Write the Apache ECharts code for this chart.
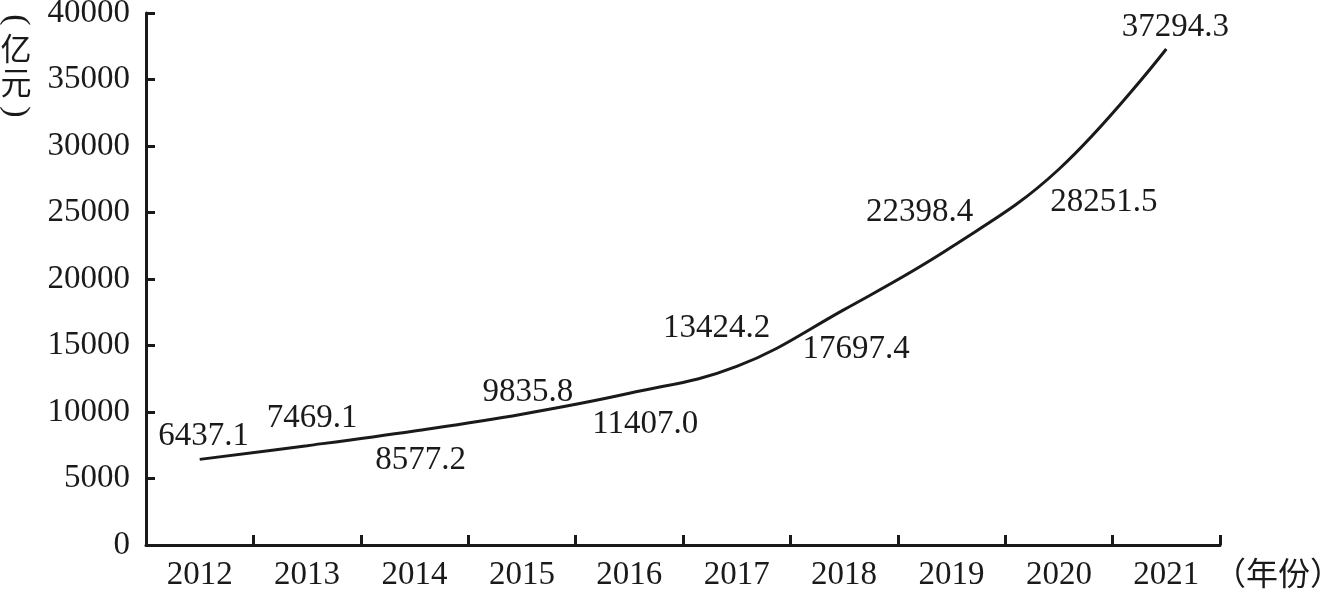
<!DOCTYPE html>
<html>
<head>
<meta charset="utf-8">
<script src="https://cdn.jsdelivr.net/npm/echarts@6/dist/echarts.min.js"></script>
<style>
html,body{margin:0;padding:0;background:#fff;}
#chart{width:1339px;height:590px;}
</style>
</head>
<body>
<div id="chart"></div>
<script>
const years = ['2012','2013','2014','2015','2016','2017','2018','2019','2020','2021'];
const values = [6437.1, 7469.1, 8577.2, 9835.8, 11407.0, 13424.2, 17697.4, 22398.4, 28251.5, 37294.3];
const valueLabels = ['6437.1','7469.1','8577.2','9835.8','11407.0','13424.2','17697.4','22398.4','28251.5','37294.3'];
const yTicks = [0, 5000, 10000, 15000, 20000, 25000, 30000, 35000, 40000];
const yNameChars = ['(', '亿', '元', ')'];
const xName = '（年份）';
// label placement offsets (layout only)
const labelOffsets = [[4,-23],[5,-27],[6,29],[6,-22],[16,31],[-20,-38],[12,40],[-32,-35],[45,33],[9,-22]];
// y-name glyph placement (layout only): [centerY, rotation]
const yNameLayout = [[20,-Math.PI/2],[48,0],[82,0],[112,-Math.PI/2]];

const ink = '#1a1a1a';
const serif = '"Liberation Serif","Times New Roman",serif';
const cjk = '"Noto Sans CJK SC"';
const chart = echarts.init(document.getElementById('chart'), null, {renderer:'canvas'});

const yNameGraphics = yNameChars.map((ch,i)=>{
  const isParen = yNameLayout[i][1] !== 0;
  return {
    type:'text',
    x:16, y:yNameLayout[i][0],
    rotation:yNameLayout[i][1],
    style:{
      text:ch,
      font: isParen ? ('34px ' + serif) : ('31px ' + cjk),
      fill:ink, align:'center', verticalAlign:'middle'
    }
  };
});

chart.setOption({
  animation:false,
  backgroundColor:'#fff',
  grid:{left:146,right:119,top:13,bottom:45,containLabel:false,outerBoundsMode:'none'},
  graphic:yNameGraphics,
  xAxis:{
    type:'category',
    data:years,
    boundaryGap:true,
    name:xName,
    nameLocation:'end',
    nameGap:-6,
    nameTextStyle:{fontFamily:cjk,fontSize:32,color:ink,verticalAlign:'top',padding:[12,0,0,0]},
    axisLine:{lineStyle:{color:ink,width:3}},
    axisTick:{show:true,inside:true,length:10,lineStyle:{color:ink,width:3}},
    axisLabel:{color:ink,fontFamily:serif,fontSize:33,margin:14},
    splitLine:{show:false}
  },
  yAxis:{
    type:'value',
    min:yTicks[0],
    max:yTicks[yTicks.length-1],
    interval:yTicks[1]-yTicks[0],
    axisLine:{show:true,lineStyle:{color:ink,width:3}},
    axisTick:{show:true,inside:true,length:9,lineStyle:{color:ink,width:3}},
    axisLabel:{color:ink,fontFamily:serif,fontSize:33,margin:16,formatter:v=>String(v)},
    splitLine:{show:false}
  },
  series:[{
    type:'line',
    data:values.map((v,i)=>({
      value:v,
      label:{offset:labelOffsets[i]}
    })),
    smooth:0.4,
    symbol:'circle',
    symbolSize:0,
    showSymbol:true,
    lineStyle:{color:ink,width:3},
    itemStyle:{color:ink},
    label:{
      show:true,
      position:'inside',
      align:'center',
      verticalAlign:'middle',
      color:ink,
      fontFamily:serif,
      fontSize:33,
      formatter:p=>valueLabels[p.dataIndex]
    }
  }]
});
</script>
</body>
</html>
